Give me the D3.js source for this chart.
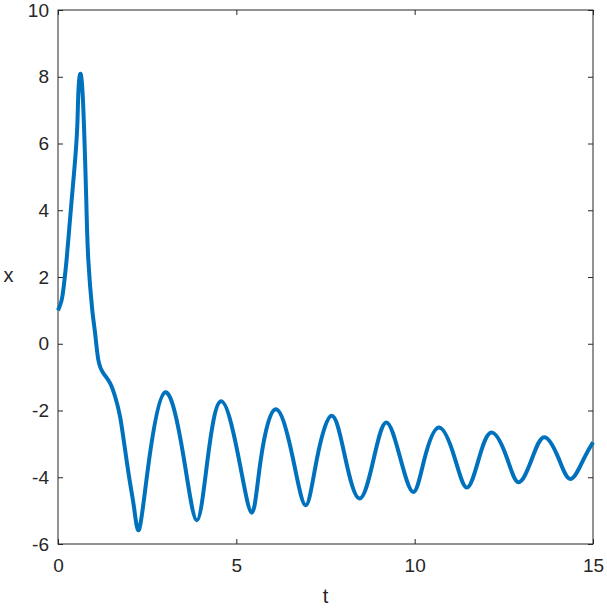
<!DOCTYPE html>
<html>
<head>
<meta charset="utf-8">
<script src="https://cdn.jsdelivr.net/npm/d3@7"></script>
<style>
  body { margin: 0; background: #fff; }
  svg { display: block; font-family: Arial, "Liberation Sans", sans-serif; }
</style>
</head>
<body>
<svg width="607" height="608"></svg>
<script>
// samples: time and x (turning points and mid-swing points)
const T = [0, 0.10, 0.17, 0.24, 0.32, 0.40, 0.48, 0.54, 0.57, 0.62, 0.69, 0.76, 0.80, 0.85, 0.96,
  1.04, 1.13, 1.27, 1.46, 1.60, 1.74, 1.88, 2.02, 2.14, 2.28,
  2.53, 3.00,
  3.52, 3.89, 4.19, 4.57, 5.06, 5.43, 5.68, 6.10, 6.58, 6.94, 7.25, 7.67,
  8.05, 8.45, 8.84, 9.20, 9.59, 9.96, 10.27, 10.68, 11.12, 11.46, 11.79, 12.15,
  12.58, 12.91, 13.28, 13.63, 14.03, 14.37, 14.73, 15.0];
const X = [1.0, 1.3, 1.8, 2.51, 3.51, 4.51, 5.51, 6.51, 7.5, 8.08, 7.5, 5.51, 4.01, 2.51, 1.02,
  0.32, -0.48, -0.88, -1.18, -1.58, -2.18, -3.17, -4.17, -4.97, -5.55,
  -3.67, -1.46,
  -3.38, -5.29, -3.5, -1.72, -3.39, -5.06, -3.51, -1.96, -3.4, -4.84, -3.5, -2.16,
  -3.4, -4.64, -3.5, -2.36, -3.4, -4.44, -3.47, -2.51, -3.41, -4.31, -3.48, -2.66,
  -3.4, -4.15, -3.47, -2.80, -3.42, -4.05, -3.47, -2.95];

const xTicks = [0, 5, 10, 15];
const yTicks = [-6, -4, -2, 0, 2, 4, 6, 8, 10];

const margin = { top: 10, right: 14, bottom: 64, left: 58 };
const W = 607 - margin.left - margin.right;
const H = 608 - margin.top - margin.bottom;
const ink = "#262626";

const svg = d3.select("svg");
const g = svg.append("g").attr("transform", `translate(${margin.left},${margin.top})`);

const x = d3.scaleLinear().domain([0, 15]).range([0, W]);
const y = d3.scaleLinear().domain([-6, 10]).range([H, 0]);

function style(sel) {
  sel.select(".domain").remove();
  sel.selectAll("line").attr("stroke", ink).attr("stroke-width", 1);
  sel.selectAll("text").attr("fill", ink).attr("font-size", 19);
}

const plain = d => String(d); // hyphen minus like the original

g.append("g").attr("transform", `translate(0,${H})`)
  .call(d3.axisBottom(x).tickValues(xTicks).tickSize(-5).tickPadding(15).tickFormat(plain))
  .call(style);
g.append("g")
  .call(d3.axisTop(x).tickValues(xTicks).tickSize(-5).tickFormat(""))
  .call(style);
g.append("g")
  .call(d3.axisLeft(y).tickValues(yTicks).tickSize(-5).tickPadding(9).tickFormat(plain))
  .call(style);
g.append("g").attr("transform", `translate(${W},0)`)
  .call(d3.axisRight(y).tickValues(yTicks).tickSize(-5).tickFormat(""))
  .call(style);

// box
g.append("rect").attr("width", W).attr("height", H)
  .attr("fill", "none").attr("stroke", ink).attr("stroke-width", 1);

const line = d3.line()
  .x(i => x(T[i]))
  .y(i => y(X[i]))
  .curve(d3.curveNatural);

g.append("path")
  .attr("d", line(d3.range(T.length)))
  .attr("fill", "none")
  .attr("stroke", "#0072BD")
  .attr("stroke-width", 4)
  .attr("stroke-linejoin", "round");

// axis labels
g.append("text").attr("x", W / 2).attr("y", H + 59)
  .attr("text-anchor", "middle").attr("fill", ink).attr("font-size", 20).text("t");
// the y label is a rotated "x"; drawn upright it looks the same
g.append("text").attr("x", -49.5).attr("y", H / 2 + 5)
  .attr("text-anchor", "middle").attr("fill", ink).attr("font-size", 20).text("x");
</script>
</body>
</html>
